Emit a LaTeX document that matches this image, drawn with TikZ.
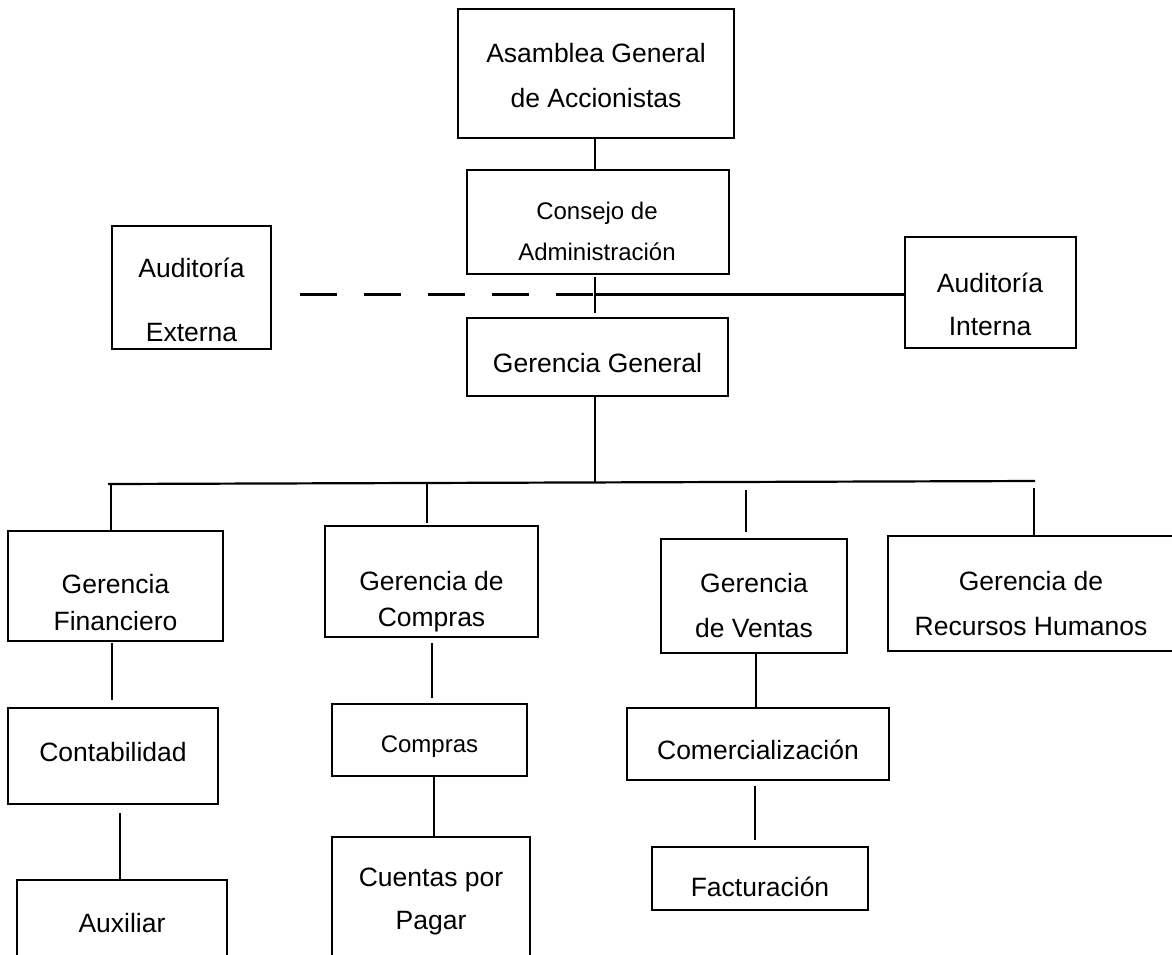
\documentclass[tikz,border=0pt]{standalone}
\usepackage{fontspec}
\setmainfont{Liberation Sans}
\newcommand\orgbox[5]{\node[box, minimum width={#4-#2}, minimum height={#5-#3}] (#1) at ({(#2+#4)/2},{(#3+#5)/2}) {};}
\begin{document}
\begin{tikzpicture}[x=1pt,y=-1pt,
  line width=2.2pt,
  box/.style={draw=black, line width=2.2pt, rectangle, inner sep=0pt, outer sep=0pt},
  txt/.style={align=center, inner sep=0pt, font=\fontsize{26.5}{45}\selectfont},
  conn/.style={draw=black, line width=2.2pt},
  dashconn/.style={conn, dash pattern=on 37pt off 27pt}]
\fill[white] (0,0) rectangle (1172,954);
\useasboundingbox (0,0) rectangle (1172,954);

% boxes
\orgbox{asam}{458}{9}{734}{138}
\orgbox{cons}{467}{170}{729}{274}
\orgbox{ext}{112}{226}{271}{349}
\orgbox{int}{905}{237}{1076}{348}
\orgbox{gg}{467}{318}{728}{396}
\orgbox{fin}{8}{531}{223}{641}
\orgbox{comg}{325}{526}{538}{637}
\orgbox{ven}{661}{539}{847}{653}
\orgbox{rrhh}{888}{536}{1180}{651}
\orgbox{contab}{8}{708}{218}{804}
\orgbox{comp}{332}{704}{527}{776}
\orgbox{aux}{17}{880}{227}{975}
\orgbox{cuent}{332}{837}{530}{975}
\orgbox{comerc}{627}{708}{889}{780}
\orgbox{fact}{652}{847}{868}{910}

% texts
\node[txt] (asamT) at (596,75.5) {Asamblea General\\de Accionistas};
\node[txt, font=\fontsize{24}{41}\selectfont] (consT) at (597,231.5) {Consejo de\\Administración};
\node[txt, font=\fontsize{26.5}{64}\selectfont] (extT) at (191.5,300) {Auditoría\\Externa};
\node[txt, font=\fontsize{26.5}{43}\selectfont] (intT) at (990,304.5) {Auditoría\\Interna};
\node[txt] (ggT) at (597.5,363) {Gerencia General};
\node[txt, font=\fontsize{26.5}{37}\selectfont] (finT) at (115.5,603) {Gerencia\\Financiero};
\node[txt, font=\fontsize{26.5}{36}\selectfont] (comgT) at (431.5,602) {Gerencia de\\Compras};
\node[txt] (venT) at (754,605.5) {Gerencia\\de Ventas};
\node[txt] (rrhhT) at (1031,603.5) {Gerencia de\\Recursos Humanos};
\node[txt] (contabT) at (113,752) {Contabilidad};
\node[txt, font=\fontsize{24}{30}\selectfont] (compT) at (429.5,747) {Compras};
\node[txt] (auxT) at (122,923) {Auxiliar};
\node[txt, font=\fontsize{26.5}{43}\selectfont] (cuentT) at (431,901.5) {Cuentas por\\Pagar};
\node[txt] (comercT) at (758,750) {Comercialización};
\node[txt] (factT) at (760,887) {Facturación};

% top connectors
\coordinate (j) at (595,294.5);
\coordinate (dashL) at (300,294.5);
\draw[conn] (j |- asam.south) -- (j |- cons.north);
\draw[conn, shorten <=3pt, shorten >=5pt] (j |- cons.south) -- (j |- gg.north);
\draw[dashconn] (dashL) -- (j);
\draw[conn] (j) -- (j -| int.west);

% bus
\coordinate (busL) at (108,484);
\coordinate (busR) at (1035,481);
\draw[conn] (busL) -- (busR);
\coordinate (bG) at (595,482.5);
\draw[conn] (bG |- gg.south) -- (bG);
\coordinate (bF) at (111,484);
\coordinate (bC) at (427,483);
\coordinate (bV) at (746,490);
\coordinate (bR) at (1034,488);
\draw[conn] (bF) -- (bF |- fin.north);
\draw[conn, shorten >=3pt] (bC) -- (bC |- comg.north);
\draw[conn, shorten >=7pt] (bV) -- (bV |- ven.north);
\draw[conn, shorten >=1pt] (bR) -- (bR |- rrhh.north);

% lower connectors
\coordinate (xF) at (112,0);
\coordinate (xA) at (120,0);
\coordinate (xC) at (432,0);
\coordinate (xP) at (434,0);
\coordinate (xV) at (756,0);
\coordinate (xW) at (755,0);
\draw[conn, shorten <=2pt, shorten >=8pt] (xF |- fin.south) -- (xF |- contab.north);
\draw[conn, shorten <=9pt] (xA |- contab.south) -- (xA |- aux.north);
\draw[conn, shorten <=6pt, shorten >=6pt] (xC |- comg.south) -- (xC |- comp.north);
\draw[conn] (xP |- comp.south) -- (xP |- cuent.north);
\draw[conn] (xV |- ven.south) -- (xV |- comerc.north);
\draw[conn, shorten <=6pt, shorten >=7pt] (xW |- comerc.south) -- (xW |- fact.north);
\end{tikzpicture}
\end{document}
